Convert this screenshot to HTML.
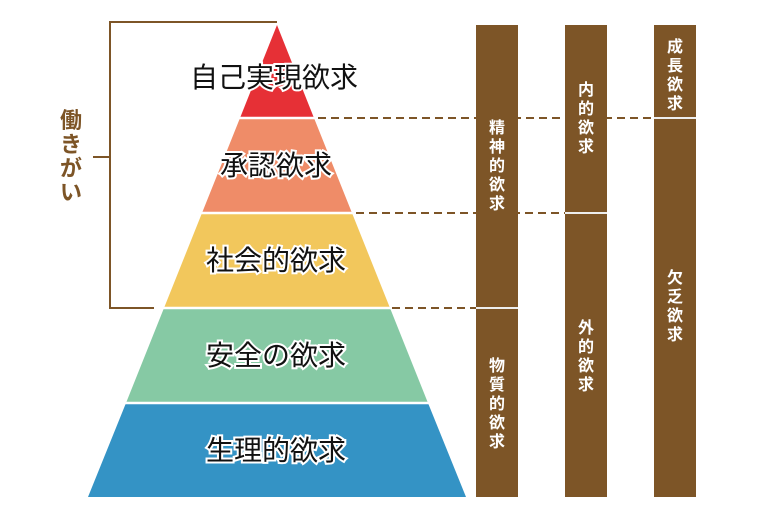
<!DOCTYPE html>
<html><head><meta charset="utf-8"><style>
html,body{margin:0;padding:0;background:#fff;width:760px;height:520px;overflow:hidden}
svg{display:block}
.pt{font-family:"Liberation Sans","Noto Sans CJK JP",sans-serif;font-size:28px;fill:#111;stroke:#fff;stroke-width:4px;paint-order:stroke;text-anchor:middle}
.bt{font-family:"Liberation Sans","Noto Sans CJK JP",sans-serif;font-size:16px;font-weight:bold;fill:#fff;text-anchor:middle}
</style></head><body>
<svg width="760" height="520" viewBox="0 0 760 520" xmlns="http://www.w3.org/2000/svg">
<g stroke="#7d5527" stroke-width="2" fill="none">
<polyline points="277,22 110,22 110,308 166,308"/>
<line x1="93" y1="157" x2="110" y2="157"/>
</g>
<g font-family="Liberation Sans,Noto Sans CJK JP,sans-serif" font-size="22" font-weight="bold" fill="#7d5527" text-anchor="middle">
<text x="71" y="128">働</text><text x="71" y="152">き</text><text x="71" y="176">が</text><text x="71" y="200">い</text>
</g>
<polygon points="277,25 314,118 240,118" fill="#e63036"/>
<polygon points="240,118 314,118 352,213 202,213" fill="#ef8c68"/>
<polygon points="202,213 352,213 390,308 164,308" fill="#f2c75c"/>
<polygon points="164,308 390,308 428,403 126,403" fill="#86c9a4"/>
<polygon points="126,403 428,403 466,497 88,497" fill="#3493c5"/>
<g stroke="#fff" stroke-width="2.5">
<line x1="230" y1="118" x2="324" y2="118"/><line x1="192" y1="213" x2="362" y2="213"/>
<line x1="154" y1="308" x2="400" y2="308"/><line x1="116" y1="403" x2="438" y2="403"/>
</g>
<text class="pt" x="274" y="87">自己実現欲求</text>
<text class="pt" x="276" y="175">承認欲求</text>
<text class="pt" x="276" y="270">社会的欲求</text>
<text class="pt" x="276" y="365">安全の欲求</text>
<text class="pt" x="276" y="460">生理的欲求</text>
<g stroke="#7d5527" stroke-width="2" stroke-dasharray="8,5">
<line x1="318" y1="118" x2="654" y2="118"/>
<line x1="356" y1="213" x2="565" y2="213"/>
<line x1="392" y1="308" x2="476" y2="308"/>
</g>
<g fill="#7d5527">
<rect x="476" y="25" width="42" height="472"/>
<rect x="565" y="25" width="42" height="472"/>
<rect x="654" y="25" width="42" height="472"/>
</g>
<g stroke="#eee" stroke-width="2">
<line x1="476" y1="308" x2="518" y2="308"/>
<line x1="565" y1="213" x2="607" y2="213"/>
<line x1="654" y1="118" x2="696" y2="118"/>
</g>
<g>
<text class="bt" x="497" y="133">精</text><text class="bt" x="497" y="152">神</text><text class="bt" x="497" y="171">的</text><text class="bt" x="497" y="190">欲</text><text class="bt" x="497" y="209">求</text>
<text class="bt" x="497" y="371">物</text><text class="bt" x="497" y="390">質</text><text class="bt" x="497" y="409">的</text><text class="bt" x="497" y="428">欲</text><text class="bt" x="497" y="447">求</text>
<text class="bt" x="586" y="95">内</text><text class="bt" x="586" y="114">的</text><text class="bt" x="586" y="133">欲</text><text class="bt" x="586" y="152">求</text>
<text class="bt" x="586" y="333">外</text><text class="bt" x="586" y="352">的</text><text class="bt" x="586" y="371">欲</text><text class="bt" x="586" y="390">求</text>
<text class="bt" x="675" y="52">成</text><text class="bt" x="675" y="71">長</text><text class="bt" x="675" y="90">欲</text><text class="bt" x="675" y="109">求</text>
<text class="bt" x="675" y="283">欠</text><text class="bt" x="675" y="302">乏</text><text class="bt" x="675" y="321">欲</text><text class="bt" x="675" y="340">求</text>
</g>
</svg>
</body></html>
